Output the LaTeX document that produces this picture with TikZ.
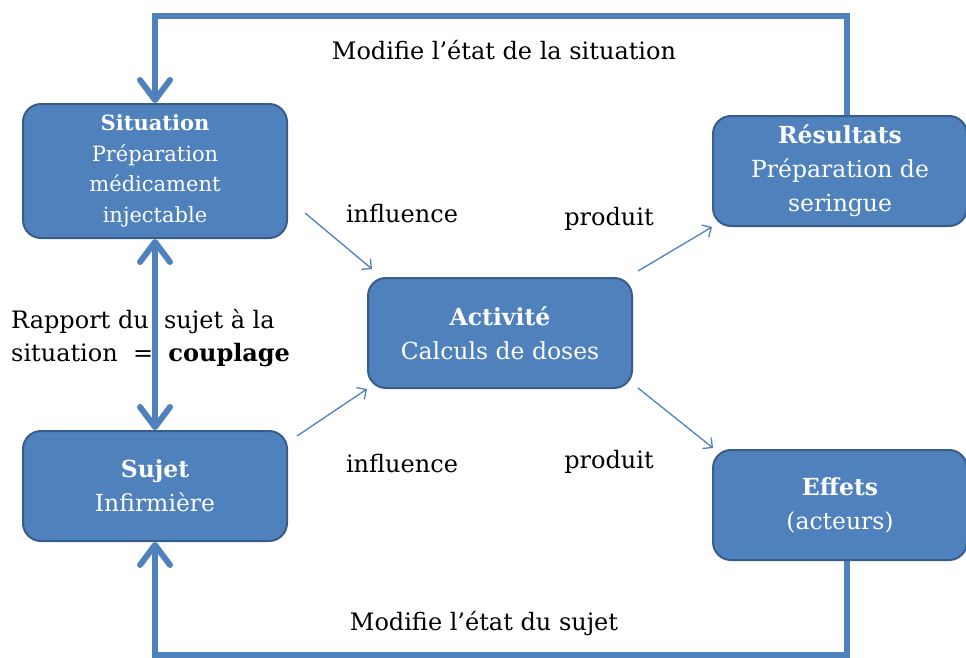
\documentclass[tikz,border=0pt]{standalone}
\usepackage{fontspec}
\setmainfont{DejaVu Serif}
\usetikzlibrary{arrows.meta,calc}
\definecolor{boxblue}{HTML}{4F81BD}
\definecolor{boxedge}{HTML}{385D8A}
\begin{document}
\begin{tikzpicture}[x=1pt,y=-1pt,
  box/.style={draw=boxedge,line width=2pt,fill=boxblue,rounded corners=18pt,
    text=white,align=center,inner sep=0pt,minimum width=264pt,minimum height=110pt,
    font=\fontsize{23.5}{34}\selectfont},
  lbl/.style={text=black,inner sep=0pt,font=\fontsize{24}{33}\selectfont},
  big/.style={draw=boxblue,line width=6pt},
  bigtip/.tip={Straight Barb[length=20pt,width=30pt,line cap=round,line join=round]},
  thin/.style={draw=boxblue,line width=1.3pt,-{Straight Barb[length=7pt,width=14pt]}}]
\useasboundingbox (0,0) rectangle (966,657);
\fill[white] (0,0) rectangle (966,657);

\node[box,minimum height=134pt,font=\fontsize{21}{30.5}\selectfont] (sit) at (155,171)
  {\textbf{Situation}\\Préparation\\médicament\\injectable};
\node[box] (suj) at (155,486) {\textbf{Sujet}\\Infirmière};
\node[box] (act) at (500,333) {\textbf{Activité}\\Calculs de doses};
\node[box,minimum width=254pt] (res) at (840,171) {\textbf{Résultats}\\Préparation de\\seringue};
\node[box,minimum width=254pt] (eff) at (840,505) {\textbf{Effets}\\(acteurs)};

\coordinate (tr) at (847,16);
\coordinate (tl) at (155,16);
\coordinate (br) at (847,655);
\coordinate (bl) at (155,655);

\draw[big,-bigtip] (res.north -| tr) -- (tr) -- (tl) -- (sit.north);
\draw[big,-bigtip] (eff.south -| br) -- (br) -- (bl) -- (suj.south);
\draw[big,bigtip-bigtip] (sit.south) -- (suj.north);

\coordinate (a1s) at (305,213);
\coordinate (a2s) at (297,436);
\draw[thin] (a1s) -- ($(act.north west)+(5,-8)$);
\draw[thin] (a2s) -- (act.south west);
\coordinate (a3s) at (638,271);
\coordinate (a4s) at (638,388);
\draw[thin] (a3s) -- (res.south west);
\draw[thin] (a4s) -- ($(eff.north west)+(1,-1)$);

\node[lbl] (m1) at (504,50) {Modifie l’état de la situation};
\node[lbl] (i1) at (402,214) {influence};
\node[lbl] (i2) at (402,464) {influence};
\node[lbl] (p1) at (609,219) {produit};
\node[lbl] (p2) at (609,462) {produit};
\node[lbl,anchor=west,align=left] (rap) at (11,338)
  {Rapport du\ \ sujet à la\\situation \ = \ \textbf{couplage}};
\node[lbl] (m2) at (484,624) {Modifie l’état du sujet};
\end{tikzpicture}
\end{document}
